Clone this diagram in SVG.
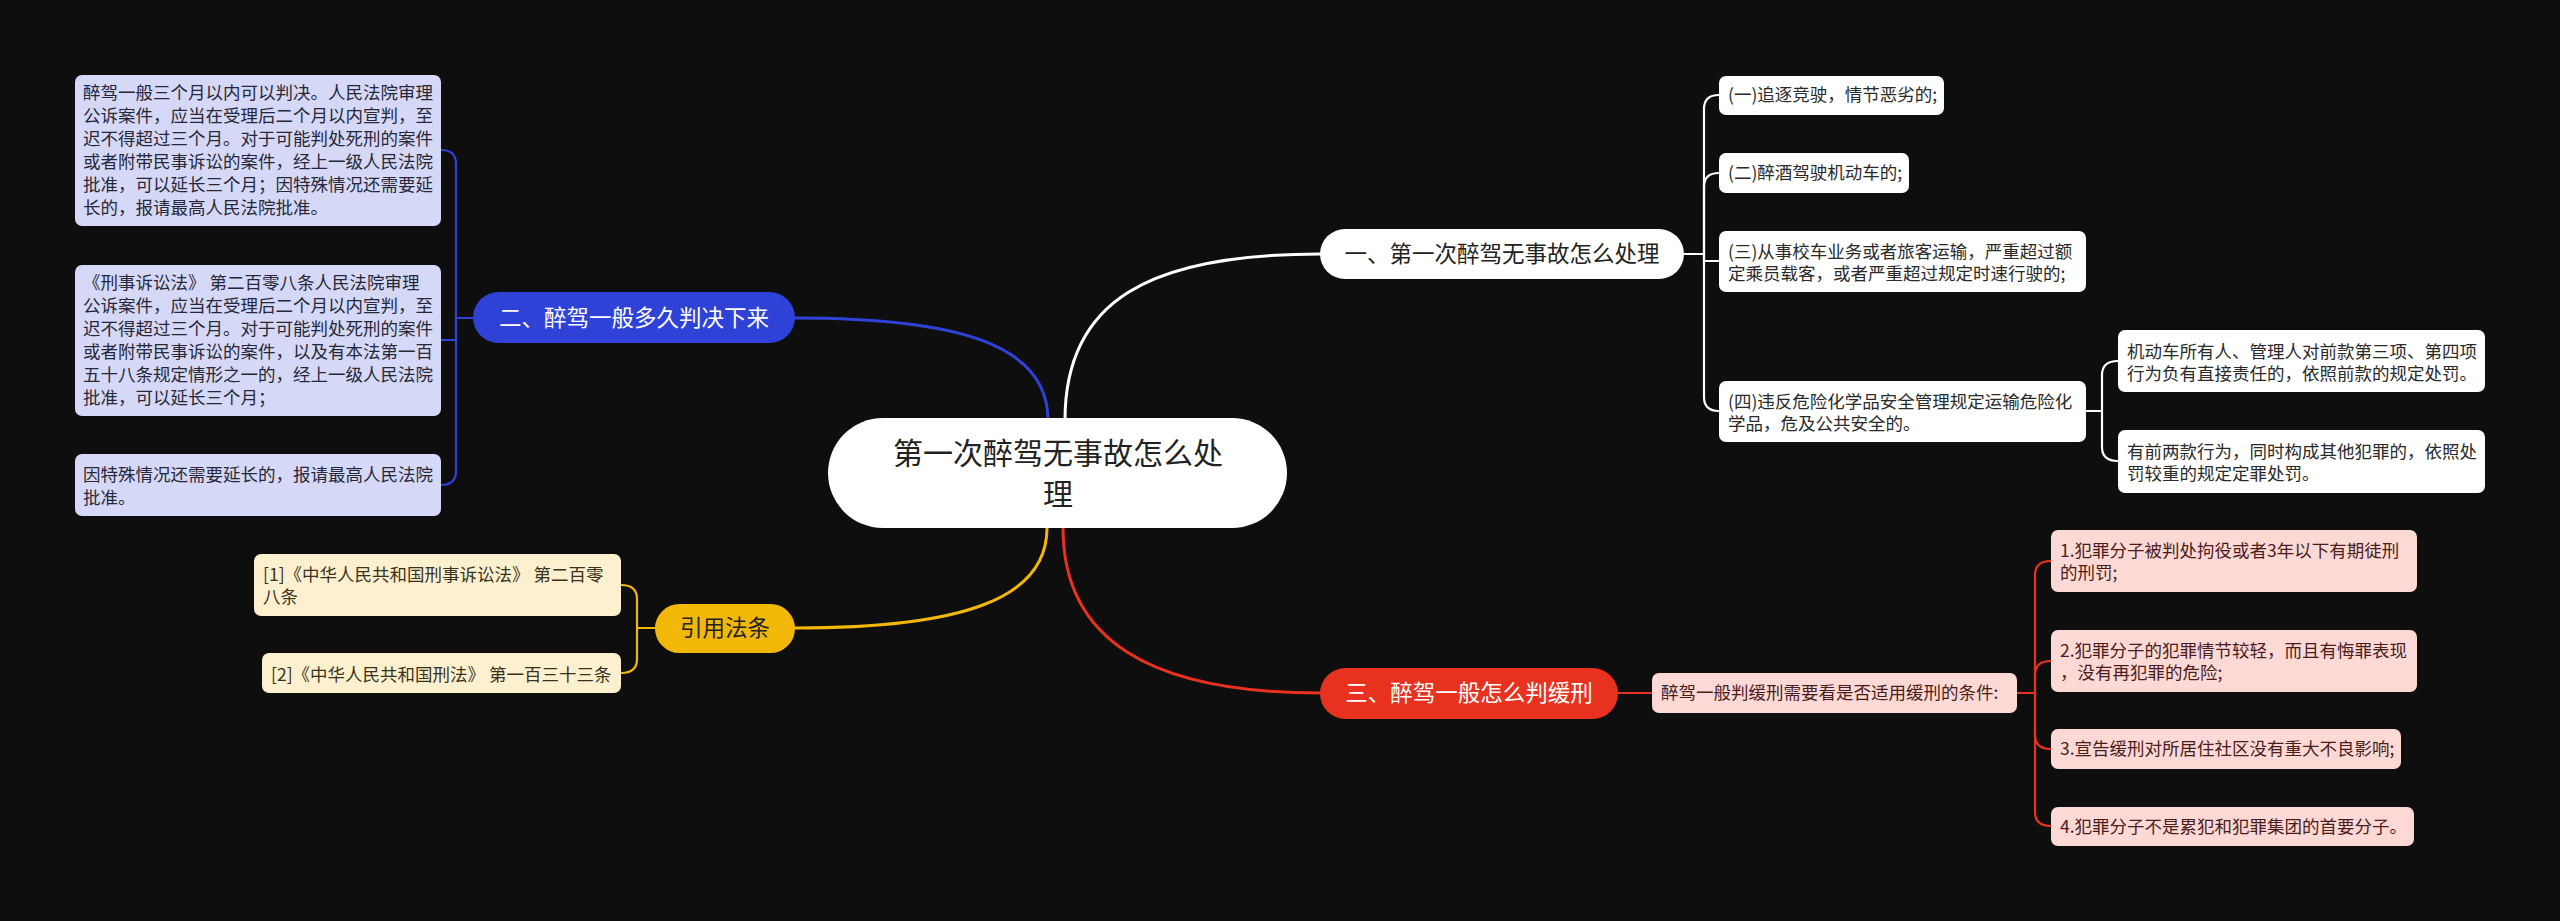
<svg xmlns="http://www.w3.org/2000/svg" width="2560" height="921" viewBox="0 0 2560 921">
<style>
text{font-family:"Noto Sans CJK SC","Noto Sans",sans-serif;}
.lf{font-size:17.5px;}
.br{font-size:22.5px;text-anchor:middle;}
.c{fill:none;stroke-linecap:round;}
.cw{stroke:#ffffff;}
.cb{stroke:#2f42d8;}
.cr{stroke:#e8321f;}
.cy{stroke:#f2b807;}
.m{stroke-width:3;}
.s{stroke-width:2.2;}
.wl{fill:#ffffff;}
.ll{fill:#d6d8f7;}
.yl{fill:#fdf0cf;}
.pl{fill:#fdd9d5;}
.tw{fill:#2a2a2a;}
.tl{fill:#262838;}
.ty{fill:#3a3220;}
.tp{fill:#4a1c1c;}
</style>
<rect x="0" y="0" width="2560" height="921" fill="#0e0e0e"/>
<g id="connectors">
<path class="c cw m" d="M1065,420 C1065,300 1150,254 1320,254"/>
<path class="c cb m" d="M1048,420 C1048,345 960,318 795,318"/>
<path class="c cy m" d="M1047,528 C1047,600 960,628 795,628"/>
<path class="c cr m" d="M1063,528 C1063,640 1150,693 1320,693"/>
<path class="c cw s" d="M1684,254 H1704"/>
<path class="c cw s" d="M1704,254 V109 Q1704,95 1719,95"/>
<path class="c cw s" d="M1704,254 V187 Q1704,173 1719,173"/>
<path class="c cw s" d="M1704,254 V261 H1719"/>
<path class="c cw s" d="M1704,254 V397 Q1704,411 1719,411"/>
<path class="c cw s" d="M2086,411 H2102"/>
<path class="c cw s" d="M2102,411 V375 Q2102,361 2118,361"/>
<path class="c cw s" d="M2102,411 V447 Q2102,461 2118,461"/>
<path class="c cb s" d="M473,318 H456"/>
<path class="c cb s" d="M456,318 V164 Q456,150 441,150"/>
<path class="c cb s" d="M456,318 V340 H441"/>
<path class="c cb s" d="M456,318 V471 Q456,485 441,485"/>
<path class="c cy s" d="M655,628 H637"/>
<path class="c cy s" d="M637,628 V599 Q637,585 621,585"/>
<path class="c cy s" d="M637,628 V659 Q637,673 621,673"/>
<path class="c cr s" d="M1618,693 H1652"/>
<path class="c cr s" d="M2017,693 H2035"/>
<path class="c cr s" d="M2035,693 V575 Q2035,561 2051,561"/>
<path class="c cr s" d="M2035,693 V675 Q2035,661 2051,661"/>
<path class="c cr s" d="M2035,693 V735 Q2035,749 2051,749"/>
<path class="c cr s" d="M2035,693 V812 Q2035,826 2051,826"/>
</g>
<g id="root">
<rect x="828" y="418" width="459" height="110" rx="55" fill="#ffffff"/>
<text x="1058" y="464" font-size="30" text-anchor="middle" fill="#222">第一次醉驾无事故怎么处</text>
<text x="1058" y="505" font-size="30" text-anchor="middle" fill="#222">理</text>
</g>
<g id="branch1">
<rect x="1320" y="229" width="364" height="50" rx="25" fill="#ffffff"/>
<text class="br" x="1502" y="262" fill="#222">一、第一次醉驾无事故怎么处理</text>
</g>
<g id="branch2">
<rect x="473" y="292" width="322" height="51" rx="25.5" fill="#2f42d8"/>
<text class="br" x="634" y="326" fill="#ffffff">二、醉驾一般多久判决下来</text>
</g>
<g id="branch3">
<rect x="1320" y="668" width="298" height="51" rx="25.5" fill="#e8321f"/>
<text class="br" x="1469" y="701" fill="#ffffff">三、醉驾一般怎么判缓刑</text>
</g>
<g id="branch4">
<rect x="655" y="604" width="140" height="49" rx="24.5" fill="#f2b807"/>
<text class="br" x="725" y="636" fill="#222">引用法条</text>
</g>
<g id="b1-leaf1">
<rect class="wl" x="1719" y="76" width="225" height="39" rx="7"/>
<text class="lf tw" x="1728" y="101">(一)追逐竞驶，情节恶劣的;</text>
</g>
<g id="b1-leaf2">
<rect class="wl" x="1719" y="153" width="190" height="40" rx="7"/>
<text class="lf tw" x="1728" y="179">(二)醉酒驾驶机动车的;</text>
</g>
<g id="b1-leaf3">
<rect class="wl" x="1719" y="231" width="367" height="61" rx="7"/>
<text class="lf tw" x="1728" y="258">(三)从事校车业务或者旅客运输，严重超过额</text>
<text class="lf tw" x="1728" y="280">定乘员载客，或者严重超过规定时速行驶的;</text>
</g>
<g id="b1-leaf4">
<rect class="wl" x="1719" y="381" width="367" height="61" rx="7"/>
<text class="lf tw" x="1728" y="408">(四)违反危险化学品安全管理规定运输危险化</text>
<text class="lf tw" x="1728" y="430">学品，危及公共安全的。</text>
</g>
<g id="b1-sub1">
<rect class="wl" x="2118" y="330" width="367" height="62" rx="7"/>
<text class="lf tw" x="2127" y="358">机动车所有人、管理人对前款第三项、第四项</text>
<text class="lf tw" x="2127" y="380">行为负有直接责任的，依照前款的规定处罚。</text>
</g>
<g id="b1-sub2">
<rect class="wl" x="2118" y="430" width="367" height="63" rx="7"/>
<text class="lf tw" x="2127" y="458">有前两款行为，同时构成其他犯罪的，依照处</text>
<text class="lf tw" x="2127" y="480">罚较重的规定定罪处罚。</text>
</g>
<g id="b2-leaf1">
<rect class="ll" x="75" y="75" width="366" height="151" rx="7"/>
<text class="lf tl" x="83" y="99">醉驾一般三个月以内可以判决。人民法院审理</text>
<text class="lf tl" x="83" y="122">公诉案件，应当在受理后二个月以内宣判，至</text>
<text class="lf tl" x="83" y="145">迟不得超过三个月。对于可能判处死刑的案件</text>
<text class="lf tl" x="83" y="168">或者附带民事诉讼的案件，经上一级人民法院</text>
<text class="lf tl" x="83" y="191">批准，可以延长三个月；因特殊情况还需要延</text>
<text class="lf tl" x="83" y="214">长的，报请最高人民法院批准。</text>
</g>
<g id="b2-leaf2">
<rect class="ll" x="75" y="265" width="366" height="151" rx="7"/>
<text class="lf tl" x="83" y="289">《刑事诉讼法》 第二百零八条人民法院审理</text>
<text class="lf tl" x="83" y="312">公诉案件，应当在受理后二个月以内宣判，至</text>
<text class="lf tl" x="83" y="335">迟不得超过三个月。对于可能判处死刑的案件</text>
<text class="lf tl" x="83" y="358">或者附带民事诉讼的案件，以及有本法第一百</text>
<text class="lf tl" x="83" y="381">五十八条规定情形之一的，经上一级人民法院</text>
<text class="lf tl" x="83" y="404">批准，可以延长三个月；</text>
</g>
<g id="b2-leaf3">
<rect class="ll" x="75" y="454" width="366" height="62" rx="7"/>
<text class="lf tl" x="83" y="481">因特殊情况还需要延长的，报请最高人民法院</text>
<text class="lf tl" x="83" y="504">批准。</text>
</g>
<g id="b4-leaf1">
<rect class="yl" x="254" y="554" width="367" height="62" rx="7"/>
<text class="lf ty" x="263" y="581">[1]《中华人民共和国刑事诉讼法》 第二百零</text>
<text class="lf ty" x="263" y="603">八条</text>
</g>
<g id="b4-leaf2">
<rect class="yl" x="262" y="653" width="359" height="40" rx="7"/>
<text class="lf ty" x="271" y="681">[2]《中华人民共和国刑法》 第一百三十三条</text>
</g>
<g id="b3-mid">
<rect class="pl" x="1652" y="673" width="365" height="40" rx="7"/>
<text class="lf tp" x="1661" y="699">醉驾一般判缓刑需要看是否适用缓刑的条件:</text>
</g>
<g id="b3-leaf1">
<rect class="pl" x="2051" y="530" width="366" height="62" rx="7"/>
<text class="lf tp" x="2060" y="557">1.犯罪分子被判处拘役或者3年以下有期徒刑</text>
<text class="lf tp" x="2060" y="579">的刑罚;</text>
</g>
<g id="b3-leaf2">
<rect class="pl" x="2051" y="630" width="366" height="62" rx="7"/>
<text class="lf tp" x="2060" y="657">2.犯罪分子的犯罪情节较轻，而且有悔罪表现</text>
<text class="lf tp" x="2060" y="679">，没有再犯罪的危险;</text>
</g>
<g id="b3-leaf3">
<rect class="pl" x="2051" y="729" width="350" height="40" rx="7"/>
<text class="lf tp" x="2060" y="755">3.宣告缓刑对所居住社区没有重大不良影响;</text>
</g>
<g id="b3-leaf4">
<rect class="pl" x="2051" y="807" width="363" height="39" rx="7"/>
<text class="lf tp" x="2060" y="833">4.犯罪分子不是累犯和犯罪集团的首要分子。</text>
</g>
</svg>
